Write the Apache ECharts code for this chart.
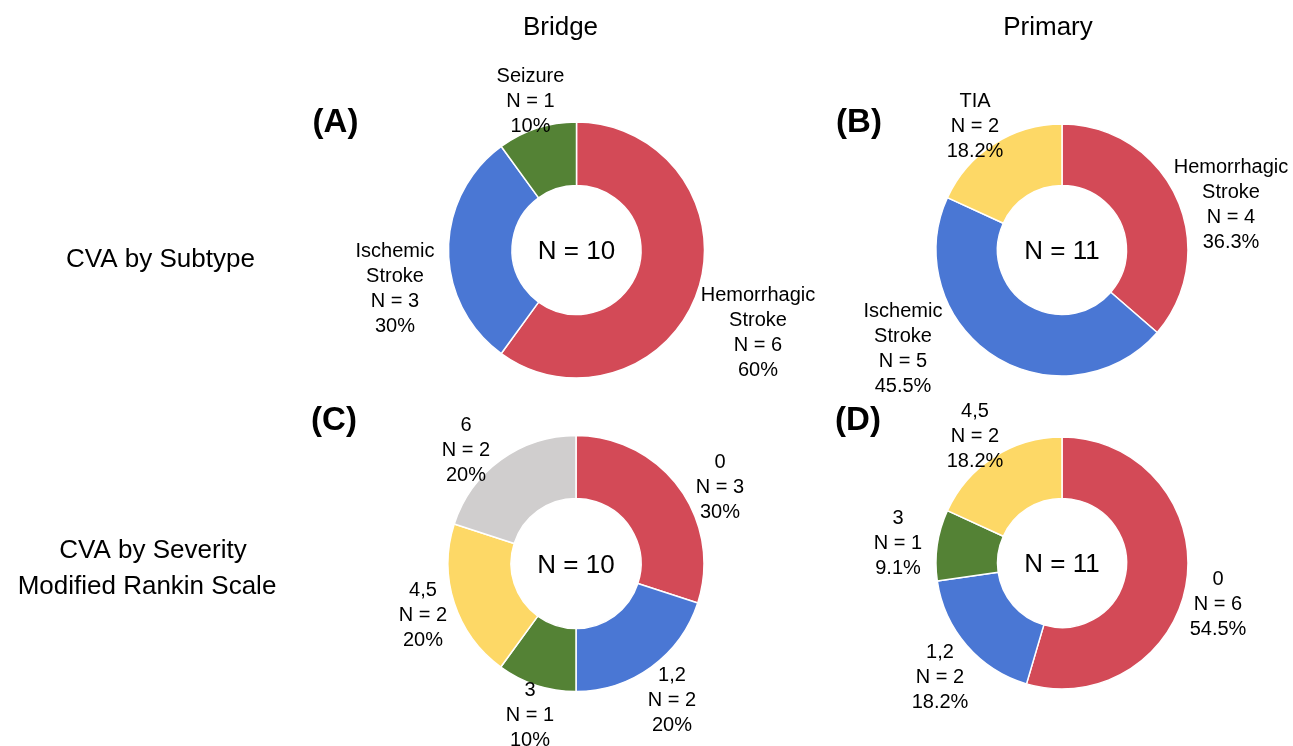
<!DOCTYPE html>
<html>
<head>
<meta charset="utf-8">
<script src="https://cdn.jsdelivr.net/npm/echarts@6/dist/echarts.min.js"></script>
<style>
  html, body { margin: 0; padding: 0; background: #fff; }
  #chart { width: 1293px; height: 746px; }
</style>
</head>
<body>
<div id="chart"></div>
<script>
// CVA events after bridge vs. primary therapy, by subtype and by severity (mRS)
const subtypeBridgeCats = ['Hemorrhagic Stroke', 'Ischemic Stroke', 'Seizure'];
const subtypeBridgeN = [6, 3, 1];
const subtypeBridgePct = [60, 30, 10];

const subtypePrimaryCats = ['Hemorrhagic Stroke', 'Ischemic Stroke', 'TIA'];
const subtypePrimaryN = [4, 5, 2];
const subtypePrimaryPct = [36.3, 45.5, 18.2];

const severityBridgeCats = ['0', '1,2', '3', '4,5', '6'];
const severityBridgeN = [3, 2, 1, 2, 2];
const severityBridgePct = [30, 20, 10, 20, 20];

const severityPrimaryCats = ['0', '1,2', '3', '4,5'];
const severityPrimaryN = [6, 2, 1, 2];
const severityPrimaryPct = [54.5, 18.2, 9.1, 18.2];

const columnTitles = ['Bridge', 'Primary'];
const rowTitles = ['CVA by Subtype', 'CVA by Severity', 'Modified Rankin Scale'];
const panelTags = ['(A)', '(B)', '(C)', '(D)'];

// ---- styling and layout ----
const FONT = '"Liberation Sans", Arial, Helvetica, sans-serif';
const RED = '#D34A57', BLUE = '#4A77D4', GREEN = '#548235', YELLOW = '#FDD866', GRAY = '#D0CECE';

const panels = [
  { cats: subtypeBridgeCats, n: subtypeBridgeN, pct: subtypeBridgePct,
    center: [576.5, 250], radius: [64.5, 128], colors: [RED, BLUE, GREEN],
    spots: [[181.5, 83], [-181.5, 39], [-46, -148.5]] },
  { cats: subtypePrimaryCats, n: subtypePrimaryN, pct: subtypePrimaryPct,
    center: [1062, 250], radius: [64.5, 126], colors: [RED, BLUE, YELLOW],
    spots: [[169, -45.5], [-159, 98.5], [-87, -123.5]] },
  { cats: severityBridgeCats, n: severityBridgeN, pct: severityBridgePct,
    center: [576, 563.5], radius: [65, 128], colors: [RED, BLUE, GREEN, YELLOW, GRAY],
    spots: [[144, -76], [96, 137], [-46, 152], [-153, 52], [-110, -113]] },
  { cats: severityPrimaryCats, n: severityPrimaryN, pct: severityPrimaryPct,
    center: [1062, 563], radius: [64.5, 126], colors: [RED, BLUE, GREEN, YELLOW],
    spots: [[156, 41.5], [-122, 114.5], [-164, -19.5], [-87, -126.5]] }
];

function total(arr) { return arr.reduce((a, b) => a + b, 0); }

const series = panels.map((p) => ({
  type: 'pie',
  center: p.center,
  radius: p.radius,
  startAngle: 90,
  clockwise: true,
  avoidLabelOverlap: false,
  animation: false,
  silent: true,
  itemStyle: { borderColor: '#ffffff', borderWidth: 1.5 },
  label: {
    show: true,
    position: 'outside',
    fontFamily: FONT,
    fontSize: 20,
    lineHeight: 25,
    color: '#000',
    align: 'center',
    formatter: (params) =>
      params.name.split(' ').join('\n') + '\nN = ' + params.value + '\n' + p.pct[params.dataIndex] + '%'
  },
  labelLine: { show: false },
  labelLayout: (params) => {
    const s = p.spots[params.dataIndex];
    return { x: p.center[0] + s[0], y: p.center[1] + s[1], align: 'center', verticalAlign: 'middle' };
  },
  emphasis: { disabled: true },
  data: p.cats.map((c, i) => ({ name: c, value: p.n[i], itemStyle: { color: p.colors[i] } }))
}));

function txt(text, x, y, size, weight) {
  return {
    type: 'text', x: x, y: y, silent: true,
    style: {
      text: text, fill: '#000',
      font: (weight || 'normal') + ' ' + size + 'px ' + FONT,
      align: 'center', verticalAlign: 'middle',
      textAlign: 'center', textVerticalAlign: 'middle'
    }
  };
}

const graphics = [
  txt(columnTitles[0], 560.5, 28, 26),
  txt(columnTitles[1], 1048, 28, 26),
  txt(rowTitles[0], 160.5, 260, 26),
  txt(rowTitles[1], 153, 551, 26),
  txt(rowTitles[2], 147, 587, 26),
  txt(panelTags[0], 335.5, 123, 33, 'bold'),
  txt(panelTags[1], 859, 123, 33, 'bold'),
  txt(panelTags[2], 334, 421, 33, 'bold'),
  txt(panelTags[3], 858, 421, 33, 'bold')
];
panels.forEach((p) => {
  graphics.push(txt('N = ' + total(p.n), p.center[0], p.center[1] + 2, 26));
});

const chart = echarts.init(document.getElementById('chart'), null, { renderer: 'canvas' });
chart.setOption({
  backgroundColor: '#ffffff',
  animation: false,
  series: series,
  graphic: { elements: graphics }
});
</script>
</body>
</html>
